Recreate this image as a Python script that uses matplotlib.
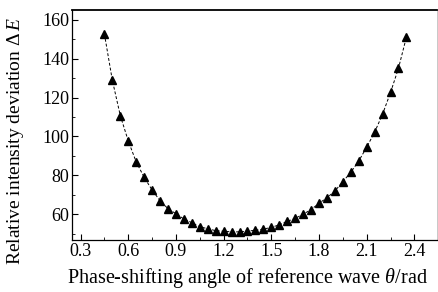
import numpy as np
import matplotlib
matplotlib.use("Agg")
import matplotlib.pyplot as plt
from matplotlib.ticker import MultipleLocator

plt.rcParams["font.family"] = ["Liberation Serif", "DejaVu Serif"]
plt.rcParams["mathtext.fontset"] = "custom"
plt.rcParams["mathtext.it"] = "Liberation Serif:italic"
plt.rcParams["mathtext.rm"] = "Liberation Serif"

# phase-shifting angle (rad)
theta = [0.45, 0.50, 0.55, 0.60, 0.65, 0.70, 0.75, 0.80, 0.85, 0.90,
         0.95, 1.00, 1.05, 1.10, 1.15, 1.20, 1.25, 1.30, 1.35, 1.40,
         1.45, 1.50, 1.55, 1.60, 1.65, 1.70, 1.75, 1.80, 1.85, 1.90,
         1.95, 2.00, 2.05, 2.10, 2.15, 2.20, 2.25, 2.30, 2.35]
# relative intensity deviation
delta_e = [152.6, 128.8, 110.7, 97.7, 86.9, 79.0, 72.5, 67.0, 62.9, 60.3,
           57.6, 55.7, 53.6, 52.6, 51.6, 51.3, 51.0, 51.0, 51.4, 51.8,
           52.4, 53.3, 54.6, 56.4, 57.9, 60.1, 62.4, 65.7, 68.5, 72.0,
           76.8, 81.6, 87.4, 94.5, 102.2, 111.5, 122.6, 135.1, 151.1]

xticks = [0.3, 0.6, 0.9, 1.2, 1.5, 1.8, 2.1, 2.4]
xticklabels = ["0.3", "0.6", "0.9", "1.2", "1.5", "1.8", "2.1", "2.4"]
yticks = [60, 80, 100, 120, 140, 160]

fig = plt.figure(figsize=(4.38, 2.92), dpi=100)
ax = fig.add_axes([0.164, 0.178, 0.834, 0.788])

ax.plot(theta, delta_e, color="black", linestyle=(0, (3, 2)), linewidth=0.7)
ax.plot(theta, delta_e, linestyle="none", marker="^", markersize=5.5,
        color="black")

ax.set_xlim(0.245, 2.543)
ax.set_ylim(46.8, 165)
ax.set_xticks(xticks)
ax.set_xticklabels(xticklabels)
ax.set_yticks(yticks)
ax.xaxis.set_minor_locator(MultipleLocator(0.15))
ax.yaxis.set_minor_locator(MultipleLocator(10))

ax.tick_params(which="both", direction="in", labelsize=13, pad=2)
ax.tick_params(which="major", length=4, width=0.8)
ax.tick_params(which="minor", length=2, width=0.6)

ax.spines["top"].set_linewidth(1.3)
ax.spines["bottom"].set_linewidth(0.9)
ax.spines["left"].set_linewidth(0.9)
ax.spines["right"].set_color("#c8c8c8")
ax.spines["right"].set_linewidth(0.7)

ax.set_xlabel(r"Phase-shifting angle of reference wave $\theta$/rad",
              fontsize=14.5)
ax.set_ylabel(r"Relative intensity deviation $\Delta\,E$", fontsize=14)
ax.xaxis.set_label_coords(0.48, -0.115)
ax.yaxis.set_label_coords(-0.125, 0.43)

fig.savefig("out.png", dpi=100)
